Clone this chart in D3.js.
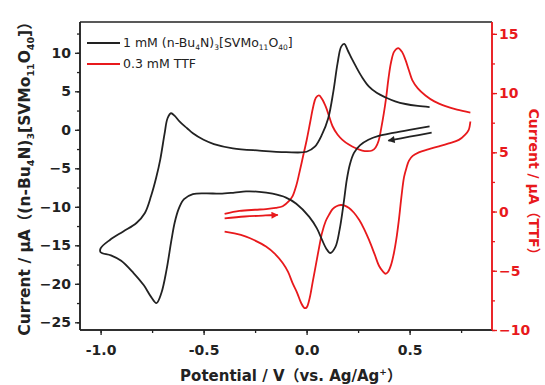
<!DOCTYPE html>
<html><head><meta charset="utf-8">
<script src="https://cdn.jsdelivr.net/npm/d3@7"></script>
<style>
body{margin:0;background:#fff;}
svg text{font-family:"DejaVu Sans","Liberation Sans",Arial,"Noto Sans CJK SC",sans-serif;}
</style></head>
<body><svg id="c" width="545" height="385"></svg>
<script>
// ---- data ----
const xTicks = [-1.0, -0.5, 0.0, 0.5];
const xTickLabels = ["-1.0", "-0.5", "0.0", "0.5"];
const leftTicks = [10, 5, 0, -5, -10, -15, -20, -25];
const rightTicks = [15, 10, 5, 0, -5, -10];
const seriesNames = ["1 mM (n-Bu4N)3[SVMo11O40]", "0.3 mM TTF"];

// black CV (left axis): potential V, current µA
const blackPotential = [0.597,0.5,0.42,0.35,0.3,0.26,0.23,0.21,0.195,0.18,0.16,0.14,0.115,0.095,0.075,0.05,0.013,-0.05,-0.1,-0.165,-0.23,-0.294,-0.35,-0.42,-0.487,-0.552,-0.595,-0.62,-0.64,-0.656,-0.68,-0.705,-0.729,-0.755,-0.79,-0.84,-0.9,-0.95,-1.0,
  -1.0,-0.955,-0.89,-0.826,-0.785,-0.755,-0.73,-0.71,-0.69,-0.675,-0.658,-0.64,-0.616,-0.58,-0.552,-0.5,-0.45,-0.358,-0.229,-0.1,0.0,0.04,0.075,0.105,0.13,0.15,0.168,0.183,0.2,0.22,0.24,0.27,0.303,0.34,0.384,0.43,0.48,0.54,0.597];
const blackCurrent = [0.45,0.0,-0.4,-0.8,-1.3,-2.0,-3.0,-4.5,-6.5,-9.5,-13.0,-15.2,-16.0,-15.4,-14.3,-12.8,-11.3,-9.6,-8.8,-8.3,-8.05,-8.0,-8.15,-8.3,-8.25,-8.35,-9.0,-10.2,-12.0,-14.3,-18.2,-21.2,-22.5,-21.7,-20.2,-18.6,-17.0,-16.3,-15.9,
  -15.4,-14.3,-13.2,-12.1,-10.8,-8.6,-6.2,-3.8,-0.6,1.5,2.15,1.8,1.05,0.2,-0.45,-1.3,-1.85,-2.4,-2.7,-2.9,-2.85,-2.2,-0.6,1.5,5.0,8.6,10.8,11.15,10.3,9.2,8.2,6.8,5.6,4.8,4.2,3.7,3.35,3.1,2.95];
const blackArrowPotential = [0.607, 0.5, 0.397];
const blackArrowCurrent = [-0.38, -0.9, -1.42];

// red CV (right axis): forward (anodic) sweep and reverse sweep
const redFwdPotential = [-0.398,-0.326,-0.25,-0.197,-0.15,-0.116,-0.085,-0.068,-0.05,-0.036,-0.018,0.0,0.018,0.032,0.045,0.06,0.075,0.093,0.11,0.126,0.15,0.174,0.205,0.239,0.27,0.295,0.318,0.335,0.35,0.362,0.375,0.386,0.398,0.41,0.425,0.445,0.462,0.48,0.497,0.513,0.54,0.577,0.62,0.674,0.73,0.795];
const redFwdCurrent = [-0.2,0.05,0.15,0.2,0.3,0.45,0.9,1.3,2.2,3.2,4.6,6.0,7.6,8.85,9.6,9.8,9.5,8.85,8.0,7.2,6.5,6.05,5.65,5.34,5.15,5.1,5.15,5.4,6.0,7.0,8.3,9.6,11.3,12.6,13.5,13.8,13.5,12.8,11.9,11.1,10.4,9.8,9.3,8.9,8.6,8.35];
const redRevPotential = [0.795,0.787,0.77,0.739,0.69,0.642,0.59,0.545,0.515,0.497,0.485,0.473,0.46,0.448,0.435,0.424,0.41,0.395,0.384,0.37,0.352,0.33,0.303,0.28,0.255,0.23,0.206,0.185,0.166,0.145,0.126,0.108,0.093,0.075,0.061,0.045,0.029,0.015,0.0,-0.01,-0.027,-0.045,-0.068,-0.09,-0.116,-0.155,-0.197,-0.25,-0.294,-0.35,-0.398];
const redRevCurrent = [7.6,6.9,6.5,6.05,5.75,5.5,5.25,5.0,4.7,4.3,3.7,2.9,1.2,-0.7,-2.4,-3.5,-4.5,-5.1,-5.25,-5.05,-4.6,-3.6,-2.4,-1.5,-0.7,-0.1,0.3,0.5,0.55,0.45,0.2,-0.3,-0.8,-1.8,-3.0,-4.5,-6.0,-7.3,-8.1,-8.15,-7.7,-6.9,-6.05,-5.1,-4.35,-3.55,-2.95,-2.45,-2.12,-1.85,-1.7];
const redArrowPotential = [-0.398, -0.3, -0.2, -0.14];
const redArrowCurrent = [-0.57, -0.42, -0.33, -0.29];

// ---- drawing ----
const RED = "#e8191c", BLK = "#222";
const svg = d3.select("#c");
const L = 80, R = 492, T = 22, B = 330;
const x = d3.scaleLinear().domain([-1.1, 0.9]).range([L, R]);
const yL = d3.scaleLinear().domain([-26, 14]).range([B, T]);
const yR = d3.scaleLinear().domain([-10, 16]).range([B, T]);

const defs = svg.append("defs");
function marker(id, col){
  defs.append("marker").attr("id", id).attr("viewBox","0 0 10 10").attr("refX",9).attr("refY",5)
    .attr("markerWidth",10).attr("markerHeight",7).attr("markerUnits","userSpaceOnUse").attr("orient","auto")
    .append("path").attr("d","M0,0L10,5L0,10z").attr("fill",col);
}
marker("ab",BLK); marker("ar",RED);

svg.append("line").attr("x1",L).attr("x2",R).attr("y1",T).attr("y2",T).attr("stroke",BLK).attr("stroke-width",1.5);

function styleAxis(g, col){
  g.selectAll(".domain").attr("stroke",col).attr("stroke-width",1.5);
  g.selectAll(".tick line").attr("stroke",col).attr("stroke-width",1.3);
  g.selectAll("text").attr("fill",col).style("font-size","14px").style("font-weight","bold");
}
// bottom axis
const gx = svg.append("g").attr("transform",`translate(0,${B})`)
  .call(d3.axisBottom(x).tickValues(d3.range(-1.0,0.9,0.25)).tickSize(3).tickFormat(""));
const gx2 = svg.append("g").attr("transform",`translate(0,${B})`)
  .call(d3.axisBottom(x).tickValues(xTicks).tickSize(5).tickPadding(10).tickFormat((d,i)=>xTickLabels[i]));
styleAxis(gx,BLK); styleAxis(gx2,BLK);
gx.selectAll(".domain").attr("d",`M${L},0H${R}`);
gx2.selectAll(".domain").attr("d",`M${L},0H${R}`);

// left axis
const gl = svg.append("g").attr("transform",`translate(${L},0)`)
  .call(d3.axisLeft(yL).tickValues(d3.range(-25,14,2.5)).tickSize(3).tickFormat(""));
const gl2 = svg.append("g").attr("transform",`translate(${L},0)`)
  .call(d3.axisLeft(yL).tickValues(leftTicks).tickSize(5).tickPadding(4).tickFormat(d3.format("d")));
styleAxis(gl,BLK); styleAxis(gl2,BLK);
gl.selectAll(".domain").attr("d",`M0,${T}V${B}`);
gl2.selectAll(".domain").attr("d",`M0,${T}V${B}`);

// right axis
const gr = svg.append("g").attr("transform",`translate(${R},0)`)
  .call(d3.axisRight(yR).tickValues(d3.range(-10,16,2.5)).tickSize(3).tickFormat(""));
const gr2 = svg.append("g").attr("transform",`translate(${R},0)`)
  .call(d3.axisRight(yR).tickValues(rightTicks).tickSize(5).tickPadding(2).tickFormat(d3.format("d")));
styleAxis(gr,RED); styleAxis(gr2,RED);
gr.selectAll(".domain").attr("d",`M0,${T}V${B}`);
gr2.selectAll(".domain").attr("d",`M0,${T}V${B}`);

// curves
const lineL = d3.line().x(d=>x(d[0])).y(d=>yL(d[1])).curve(d3.curveCatmullRom.alpha(0.5));
const lineR = d3.line().x(d=>x(d[0])).y(d=>yR(d[1])).curve(d3.curveCatmullRom.alpha(0.5));
const zipd = (a,b)=>a.map((v,i)=>[v,b[i]]);
function draw(data, gen, col, arrow){
  const p = svg.append("path").datum(data).attr("d",gen).attr("fill","none").attr("stroke",col)
    .attr("stroke-width",1.8).attr("stroke-linejoin","round");
  if (arrow) p.attr("marker-end",`url(#${arrow})`);
}
draw(zipd(redFwdPotential,redFwdCurrent), lineR, RED);
draw(zipd(redRevPotential,redRevCurrent), lineR, RED);
draw(zipd(redArrowPotential,redArrowCurrent), lineR, RED, "ar");
draw(zipd(blackPotential,blackCurrent), lineL, BLK);
draw(zipd(blackArrowPotential,blackArrowCurrent), lineL, BLK, "ab");

// legend
const lg = svg.append("g");
[[BLK,43],[RED,64]].forEach(([c,yy])=>{
  lg.append("line").attr("x1",87).attr("x2",120).attr("y1",yy).attr("y2",yy).attr("stroke",c).attr("stroke-width",1.8);
});
const t1 = lg.append("text").attr("x",123).attr("y",47).style("font-size","12.5px").attr("fill",BLK);
function sub(t, txt, fs, d){
  t.append("tspan").text(txt).style("font-size",fs).attr("dy",d);
}
t1.append("tspan").text("1 mM (n-Bu");
sub(t1,"4","7.5px",3); sub(t1,"N)",null,-3); sub(t1,"3","7.5px",3); sub(t1,"[SVMo",null,-3);
sub(t1,"11","7.5px",3); sub(t1,"O",null,-3); sub(t1,"40","7.5px",3); sub(t1,"]",null,-3);
lg.append("text").attr("x",123).attr("y",68).style("font-size","12.5px").attr("fill",BLK).text(seriesNames[1]);

// axis titles
const ty = svg.append("text").attr("transform","translate(30,175) rotate(-90)").attr("text-anchor","middle")
  .style("font-size","15.5px").style("font-weight","bold").attr("fill",BLK);
ty.append("tspan").text("Current / μA（(n-Bu");
sub(ty,"4","9.5px",4); sub(ty,"N)",null,-4); sub(ty,"3","9.5px",4); sub(ty,"[SVMo",null,-4);
sub(ty,"11","9.5px",4); sub(ty,"O",null,-4); sub(ty,"40","9.5px",4); sub(ty,"]）",null,-4);

svg.append("text").attr("transform","translate(529,185) rotate(90)").attr("text-anchor","middle")
  .style("font-size","14px").style("font-weight","bold").attr("fill",RED).text("Current / μA（TTF）");

const tx = svg.append("text").attr("x",291).attr("y",381).attr("text-anchor","middle")
  .style("font-size","15px").style("font-weight","bold").attr("fill",BLK);
tx.append("tspan").text("Potential / V（vs. Ag/Ag");
sub(tx,"+","9px",-6); sub(tx,"）",null,6);
</script></body></html>
